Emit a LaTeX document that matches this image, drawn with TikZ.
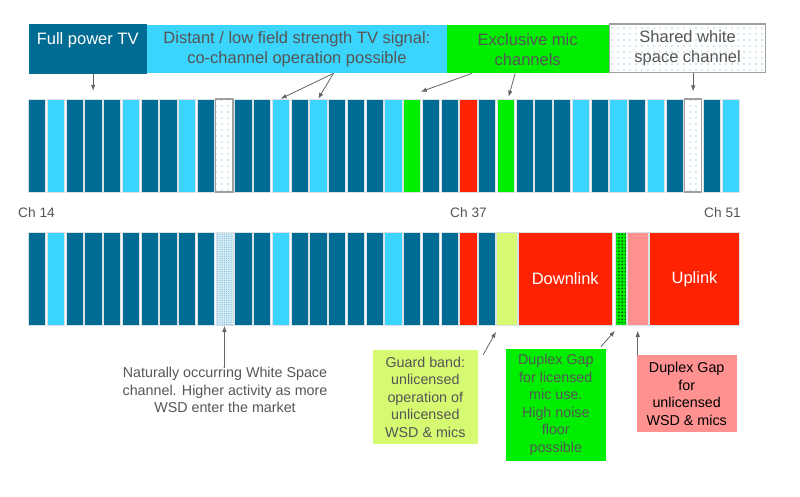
\documentclass[tikz,border=0pt]{standalone}
\usepackage{fontspec}
\setmainfont{Liberation Sans}
\usepackage{tikz}
\usetikzlibrary{shapes, arrows.meta, positioning, patterns.meta}

\definecolor{tvDark}{RGB}{0,108,148}
\definecolor{tvLight}{RGB}{58,212,252}
\definecolor{micGreen}{RGB}{0,238,0}
\definecolor{lteRed}{RGB}{255,34,0}
\definecolor{guardYel}{RGB}{214,249,114}
\definecolor{gapPink}{RGB}{255,145,145}
\definecolor{txtGray}{RGB}{85,85,85}
\definecolor{arrGray}{RGB}{100,100,100}
\definecolor{dotBlue}{RGB}{70,165,210}
\definecolor{barEdge}{RGB}{215,225,230}

\tikzset{
	chBar/.style={draw=barEdge, line width=0.5pt, inner sep=0pt,
		minimum width=17.2pt, minimum height=93pt},
	fullTV/.style={fill=tvDark},
	lowTV/.style={fill=tvLight},
	micCh/.style={fill=micGreen},
	busyCh/.style={fill=lteRed},
	freeCh/.style={draw=gray!75, line width=1.2pt,
		pattern={Dots[distance=6pt,radius=0.6pt]}, pattern color=dotBlue},
	wsCh/.style={preaction={fill=dotBlue!20},
		pattern={Dots[distance=2.2pt,radius=0.6pt]}, pattern color=dotBlue!80},
	guardCh/.style={fill=guardYel},
	gapCh/.style={preaction={fill=micGreen},
		pattern={Dots[distance=3.4pt,radius=1.1pt]}, pattern color=green!45!black},
	pinkCh/.style={fill=gapPink},
	topLabel/.style={inner sep=0pt, anchor=north west, align=center,
		text=txtGray, font=\fontsize{16.5}{20}\selectfont},
	noteBox/.style={inner sep=0pt, align=center, text=txtGray,
		font=\fontsize{14.3}{17.5}\selectfont},
	chLabel/.style={text=txtGray, inner sep=0pt, font=\fontsize{13.7}{16}\selectfont},
	ptr/.style={-{Latex[length=6pt,width=4.5pt]}, draw=arrGray, line width=0.8pt}
}

\begin{document}
\begin{tikzpicture}[x=1pt, y=-1pt]
	\useasboundingbox (0,0) rectangle (800,496);
	% top row of channels
	\foreach \c [count=\i from 0] in {fullTV,lowTV,fullTV,fullTV,fullTV,lowTV,fullTV,fullTV,lowTV,fullTV,
		freeCh,fullTV,fullTV,lowTV,fullTV,lowTV,fullTV,fullTV,fullTV,lowTV,
		micCh,fullTV,fullTV,busyCh,fullTV,micCh,fullTV,fullTV,fullTV,lowTV,
		fullTV,lowTV,fullTV,lowTV,fullTV,freeCh,fullTV,lowTV}
	\node[chBar,\c] (top\i) at ({36.9+18.75*\i},145.5) {};
	% bottom row of channels
	\foreach \c [count=\i from 0] in {fullTV,lowTV,fullTV,fullTV,fullTV,fullTV,fullTV,fullTV,fullTV,fullTV,
		wsCh,fullTV,fullTV,lowTV,fullTV,fullTV,fullTV,fullTV,fullTV,lowTV,
		fullTV,fullTV,fullTV,busyCh,fullTV}
	\node[chBar,\c] (bot\i) at ({36.9+18.75*\i},279) {};
	\node[chBar, guardCh, minimum width=20.7pt, anchor=west] (guard) at (496,279) {};
	\node[chBar, busyCh, minimum width=93.4pt, anchor=west, text=white,
	font=\fontsize{16.5}{20}\selectfont] (down) at (518.3,279) {Downlink};
	\node[chBar, gapCh, minimum width=10.7pt, anchor=west] (gap) at (615,279) {};
	\node[chBar, pinkCh, minimum width=20.4pt, anchor=west] (pink) at (627.3,279) {};
	\node[chBar, busyCh, minimum width=90pt, anchor=west, text=white,
	font=\fontsize{16.5}{20}\selectfont] (up) at (649.3,279) {Uplink};
	% channel numbers
	\node[chLabel] (ch14) at (36.5,213) {Ch 14};
	\node[chLabel] (ch37) at (468.5,213) {Ch 37};
	\node[chLabel] (ch51) at (722.5,213) {Ch 51};
	% labels on top
	\node[topLabel, fill=tvDark, text=white,
	minimum width=118.4pt,
	minimum height=50pt] (fullBox) at (28.3,23.3) {Full power TV\\~};
	\node[topLabel, fill=tvLight,
	minimum width=300pt,
	minimum height=48pt] (lowBox) at (146.7,25) {Distant / low field strength TV signal:\\co-channel operation possible};
	\node[topLabel, fill=micGreen,
	minimum width=161.6pt,
	minimum height=48pt] (micBox) at (446.7,25) {Exclusive mic\\channels};
	\node[topLabel, freeCh,
	minimum width=156pt,
	minimum height=48.7pt] (sharedBox) at (609,23.3) {Shared white\\space channel};
	% notes below
	\node[noteBox, fill=guardYel,
	minimum width=105.3pt,
	minimum height=94pt] (guardBox) at (425.3,397) {Guard band:\\unlicensed\\operation of\\unlicensed\\WSD \& mics};
	\node[noteBox, fill=micGreen,
	minimum width=99.7pt,
	minimum height=111.7pt] (gapBox) at (555.8,404.8) {Duplex Gap\\for licensed\\mic use.\\High noise\\floor\\possible};
	\node[noteBox, fill=gapPink, text=black,
	minimum width=100pt,
	minimum height=77.3pt] (pinkBox) at (686.7,393.7) {Duplex Gap\\for\\unlicensed\\WSD \& mics};
	\node[noteBox] (wsNote) at (225,390) {Naturally occurring White Space\\channel. Higher activity as more\\WSD enter the market};
	% Arrows
	\draw[ptr] (fullBox.south -| top3) -- ([yshift=8pt]top3.north);
	\draw[ptr] ([xshift=36.6pt]lowBox.south) -- (top13.north);
	\draw[ptr] ([xshift=36.6pt]lowBox.south) -- (top15.north);
	\draw[ptr] ([xshift=-55.8pt]micBox.south) -- ([yshift=7pt]top20.north east);
	\draw[ptr] ([xshift=-12.5pt]micBox.south) -- ([xshift=3pt,yshift=2pt]top25.north);
	\draw[ptr] (sharedBox.south -| top35) -- ([yshift=7pt]top35.north);
	\draw[ptr] (wsNote.north -| bot10) -- (bot10.south);
	\draw[ptr] ([xshift=5pt,yshift=-5pt]guardBox.north east) -- ([yshift=-6pt]guard.south west);
	\draw[ptr] ([xshift=-5pt,yshift=2pt]gapBox.north east) -- ([yshift=-5pt]gap.south west);
	\draw[ptr] (pink.south |- pinkBox.north) -- ([yshift=-5pt]pink.south);
\end{tikzpicture}
\end{document}
